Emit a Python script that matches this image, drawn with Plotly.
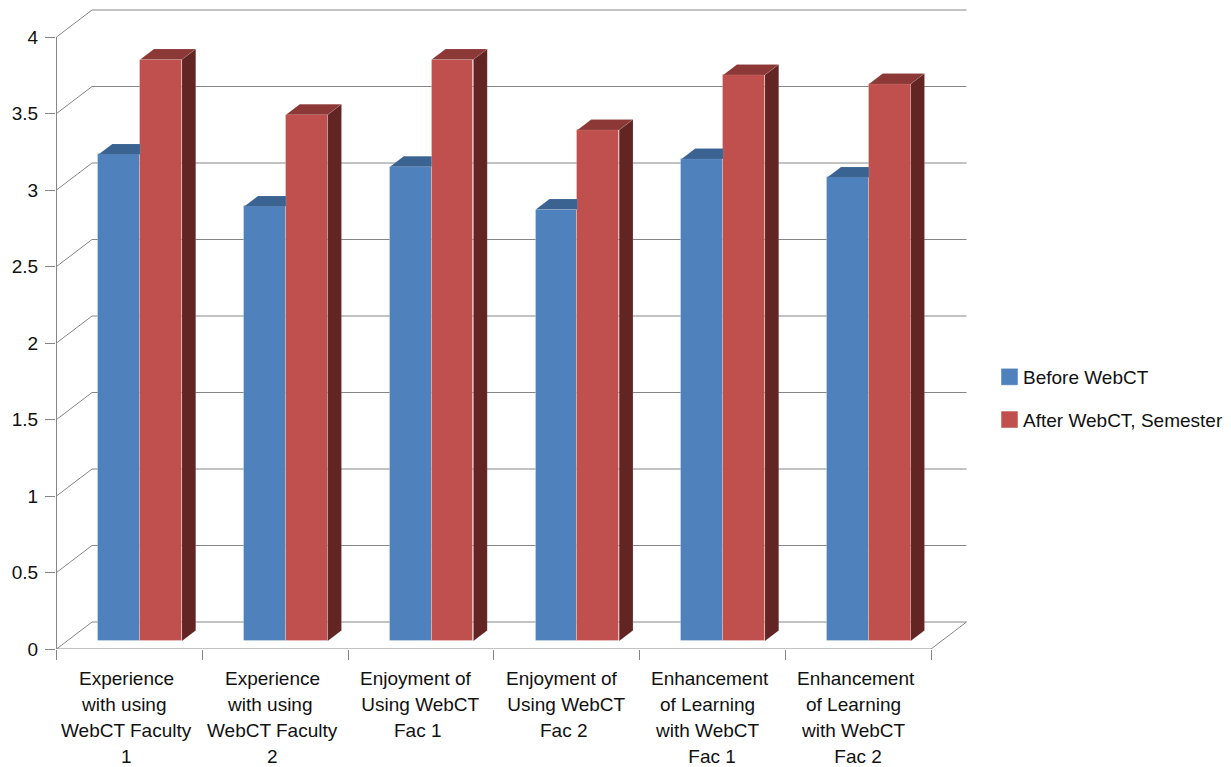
import plotly.graph_objects as go

# Survey scores per faculty group
NB = "\u00a0"
category_lines = [
    ["Experience", "with using" + NB, "WebCT Faculty", "1"],
    ["Experience", "with using" + NB, "WebCT Faculty", "2"],
    ["Enjoyment of" + NB, NB + "Using WebCT", "Fac 1"],
    ["Enjoyment of" + NB, NB + "Using WebCT", "Fac 2"],
    ["Enhancement", "of Learning" + NB, "with WebCT" + NB, NB + "Fac 1"],
    ["Enhancement", "of Learning" + NB, "with WebCT" + NB, NB + "Fac 2"],
]
before_webct = [3.18, 2.84, 3.10, 2.82, 3.15, 3.03]
after_webct = [3.80, 3.44, 3.80, 3.34, 3.70, 3.64]
y_ticks = [0, 0.5, 1, 1.5, 2, 2.5, 3, 3.5, 4]
y_tick_text = ["0", "0.5", "1", "1.5", "2", "2.5", "3", "3.5", "4"]

# Pixel scale of the axes, used to express the oblique projection in data units
PX_PER_CAT = 145.75
PX_PER_UNIT = 153.0
PLOT_L, PLOT_T, PLOT_W, PLOT_H = 56, 5, 919, 644


def cat(px):
    return px / PX_PER_CAT


def val(px):
    return px / PX_PER_UNIT


WALL_DX, WALL_DY = cat(35.5), val(27)    # depth of the floor and side wall
FRONT_DX, BASE = cat(10.8), val(8)       # where the bar fronts stand on the floor
BAR_DX, BAR_DY = cat(13.8), val(10.5)    # depth of a bar
BAR_W = cat(41.75)

BLUE, BLUE_TOP = "#4F81BD", "#3A6391"
RED, RED_TOP, RED_SIDE = "#C0504D", "#8C3836", "#632523"
AXIS = "#868686"
FONT = dict(family="Liberation Sans, Arial, sans-serif", size=19, color="#111111")

n = len(category_lines)
centers = [i + 0.5 + FRONT_DX for i in range(n)]
blue_x = [c - BAR_W / 2 for c in centers]
red_x = [c + BAR_W / 2 for c in centers]

fig = go.Figure()


def add_face(xs, ys, color):
    fig.add_trace(go.Scatter(
        x=xs, y=ys, mode="lines", fill="toself", fillcolor=color,
        line=dict(color="rgba(255,255,255,0.18)", width=0.6),
        showlegend=False, hoverinfo="skip",
    ))


# Front faces
fig.add_trace(go.Bar(
    x=blue_x, y=before_webct, base=BASE, width=BAR_W,
    marker=dict(color=BLUE, line=dict(color="rgba(255,255,255,0.25)", width=1)),
    name="Before WebCT", showlegend=False,
))
fig.add_trace(go.Bar(
    x=red_x, y=after_webct, base=BASE, width=BAR_W,
    marker=dict(color=RED, line=dict(color="rgba(255,255,255,0.25)", width=1)),
    name="After WebCT, Semester", showlegend=False,
))

# Top and side faces; the blue bars only show the part of the top left of the red front
for bx, rx, b, r in zip(blue_x, red_x, before_webct, after_webct):
    bl, br = bx - BAR_W / 2, bx + BAR_W / 2
    bt = b + BASE
    add_face([bl, bl + BAR_DX, br, br, bl], [bt, bt + BAR_DY, bt + BAR_DY, bt, bt], BLUE_TOP)
    rl, rr = rx - BAR_W / 2, rx + BAR_W / 2
    rt = r + BASE
    add_face([rl, rl + BAR_DX, rr + BAR_DX, rr, rl], [rt, rt + BAR_DY, rt + BAR_DY, rt, rt], RED_TOP)
    add_face([rr, rr + BAR_DX, rr + BAR_DX, rr, rr],
             [BASE, BASE + BAR_DY, rt + BAR_DY, rt, BASE], RED_SIDE)

# Front axis lines and the diagonals running back along the side wall and floor
wall_x, wall_y = [0, 0, None, 0, n, n + WALL_DX, None], [0, 4, None, 0, 0, WALL_DY, None]
for t in y_ticks:
    wall_x += [0, WALL_DX, None]
    wall_y += [t, t + WALL_DY, None]
fig.add_trace(go.Scatter(
    x=wall_x, y=wall_y, mode="lines", line=dict(color=AXIS, width=1),
    cliponaxis=False, showlegend=False, hoverinfo="skip",
))

# Legend entries; the swatch is nudged towards its label
for name, color in (("Before WebCT", BLUE), ("After WebCT, Semester", RED)):
    fig.add_trace(go.Scatter(
        x=[None], y=[None], mode="markers", name=name, legendgroup=name,
        marker=dict(symbol="square", size=16, color=color, angle=90, standoff=6.5,
                    line=dict(color=color, width=0.5)),
    ))

# Grid lines on the back wall
shapes = [
    dict(type="line", xref="x", yref="y", layer="below",
         x0=WALL_DX, x1=n + WALL_DX, y0=t + WALL_DY, y1=t + WALL_DY,
         line=dict(color=AXIS, width=1))
    for t in y_ticks
]

# Category labels, one annotation per line for the wide line spacing
annotations = []
for i, lines in enumerate(category_lines):
    for j, line in enumerate(lines):
        annotations.append(dict(
            x=i + 0.5, y=0, xref="x", yref="y", text=line, showarrow=False,
            xanchor="center", yanchor="middle", xshift=-2.4, yshift=-29 - 26.3 * j,
            font=FONT,
        ))

fig.update_layout(
    width=1231, height=767,
    autosize=False,
    barmode="overlay",
    bargap=0,
    paper_bgcolor="white",
    plot_bgcolor="white",
    font=FONT,
    margin=dict(l=PLOT_L, t=PLOT_T, r=1231 - PLOT_L - PLOT_W, b=767 - PLOT_T - PLOT_H,
                pad=0, autoexpand=False),
    xaxis=dict(
        range=[-cat(0.5), -cat(0.5) + PLOT_W / PX_PER_CAT],
        tickmode="array", tickvals=list(range(n + 1)), ticktext=[""] * (n + 1),
        ticks="outside", ticklen=10, tickcolor=AXIS, tickwidth=1,
        showgrid=False, zeroline=False, showline=False, fixedrange=True,
    ),
    yaxis=dict(
        range=[0, PLOT_H / PX_PER_UNIT],
        tickmode="array", tickvals=y_ticks, ticktext=y_tick_text,
        ticks="outside", ticklen=10, tickcolor=AXIS, tickwidth=1,
        ticklabelstandoff=3,
        showgrid=False, zeroline=False, showline=False, fixedrange=True,
        tickfont=FONT,
    ),
    legend=dict(
        x=983 / 1231, xref="container", xanchor="left",
        y=1 - 358 / 767, yref="container", yanchor="top",
        tracegroupgap=15, font=FONT,
        borderwidth=0, bgcolor="rgba(0,0,0,0)", itemclick=False, itemdoubleclick=False,
    ),
    shapes=shapes,
    annotations=annotations,
)

fig.write_html("out.html")
